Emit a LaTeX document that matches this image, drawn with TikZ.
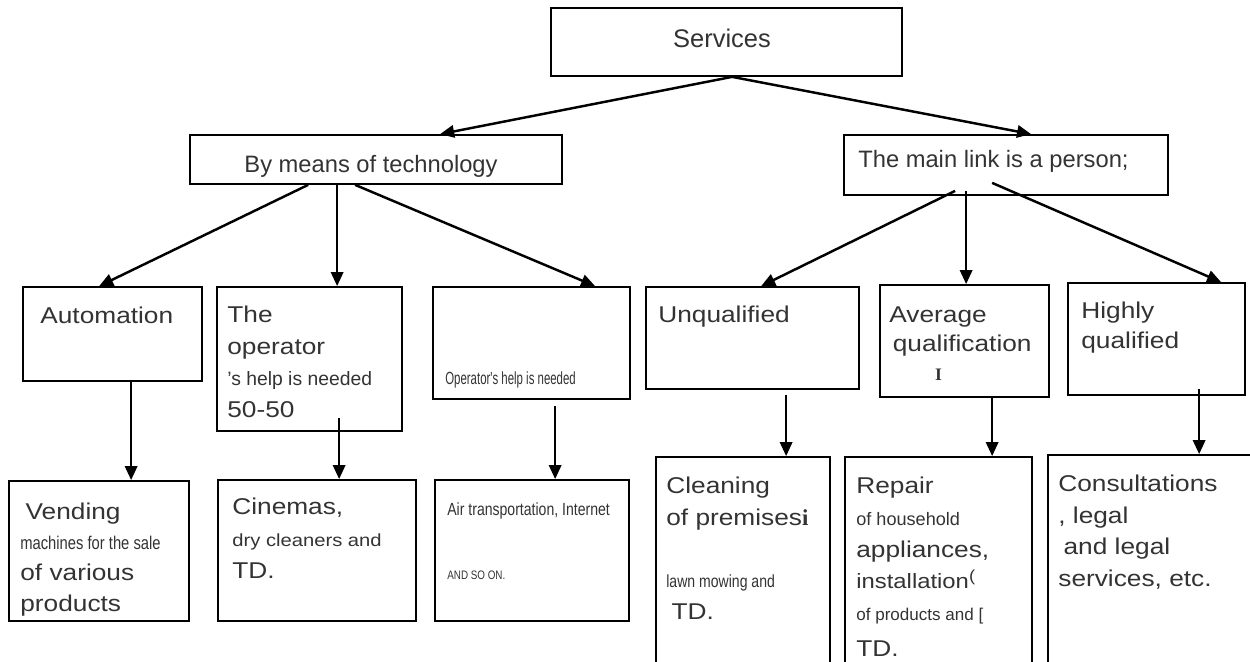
\documentclass[tikz,border=0pt]{standalone}
\usepackage{fontspec}
\setmainfont{Liberation Sans}
\newfontfamily\widefont[FakeStretch=1.15]{Liberation Sans}
\newfontfamily\narrowfont[FakeStretch=0.8]{Liberation Sans}
\newfontfamily\condfont[FakeStretch=0.65]{Liberation Sans}
\newfontfamily\seriffont{Liberation Serif}
\usetikzlibrary{arrows.meta, calc, fit}

\tikzset{
  box/.style={draw, line width=1pt, inner sep=0pt},
  arr/.style={-{Triangle[length=8pt, width=7pt]}, line width=1.4pt},
  txt/.style={inner sep=0pt, anchor=north west, align=left, text=black!80},
  wide/.style={txt, font=\widefont\fontsize{13}{#1}\selectfont},
  wide/.default=18
}

\begin{document}
\begin{tikzpicture}[x=0.02cm, y=-0.02cm]
			\useasboundingbox (0,0) rectangle (1250,662);
			\clip (0,0) rectangle (1250,662);
			% top levels
			\node[box, fit={(551,8) (902,76)}] (serv) {};
			\node[box, fit={(190,135) (562,184)}] (tech) {};
			\node[box, fit={(844,135) (1168,195)}] (pers) {};
			\node[txt, anchor=base, font=\fontsize{14.5}{17}\selectfont] (servT) at (722,48) {Services};
			\node[txt, anchor=base, font=\fontsize{13.5}{16}\selectfont] (techT) at (371,173) {By means of technology};
			\node[txt, anchor=base west, font=\fontsize{13.5}{16}\selectfont] (persT) at (858,168) {The main link is a person;};
			% middle row
			\node[box, fit={(23,287) (202,381)}] (auto) {};
			\node[box, fit={(217,287) (402,431)}] (oper) {};
			\node[box, fit={(433,287) (630,399)}] (opneed) {};
			\node[box, fit={(646,287) (859,389)}] (unq) {};
			\node[box, fit={(880,285) (1049,397)}] (avg) {};
			\node[box, fit={(1068,283) (1245,395)}] (high) {};
			\node[wide] (autoT) at (40,306.5) {Automation};
			\node[wide] (operT) at (227,305.5) {The\\operator\\{\normalfont\fontsize{11}{13}\selectfont 's help is needed}\\50-50};
			\node[txt, font=\condfont\fontsize{10}{12}\selectfont] (opneedT) at (445,371) {Operator's help is needed};
			\node[wide] (unqT) at (658,305.3) {Unqualified};
			\node[wide=16.6] (avgT) at (889,306.5) {Average\\\hspace{2pt}qualification\\\hspace{26pt}{\seriffont\bfseries\fontsize{10}{12}\selectfont I}};
			\node[wide=17] (highT) at (1081,301.5) {Highly\\qualified};
			% bottom row
			\node[box, fit={(9,481) (189,621)}] (vend) {};
			\node[box, fit={(218,480) (416,621)}] (cine) {};
			\node[box, fit={(435,480) (629,621)}] (air) {};
			\node[box, fit={(656,457) (830,690)}] (clean) {};
			\node[box, fit={(845,457) (1032,690)}] (repair) {};
			\node[box, fit={(1048,455) (1262,690)}] (consult) {};
			\node[wide=17.4] (vendT) at (20,502.5) {\hspace{3pt}Vending\\{\narrowfont\fontsize{10.5}{12}\selectfont machines for the sale}\\of various\\products};
			\node[wide=18.1] (cineT) at (232,497.5) {Cinemas,\\{\fontsize{10}{12}\selectfont dry cleaners and}\\TD.};
			\node[txt, font=\narrowfont\fontsize{10}{18}\selectfont] (airT) at (447,502.4) {Air transportation, Internet\\[18.3pt]{\fontsize{7}{8}\selectfont AND SO ON.}};
			\node[wide=18.3] (cleanT) at (666,476.5) {Cleaning\\of premises{\seriffont\bfseries i}\\[16.8pt]{\narrowfont\fontsize{10}{12}\selectfont lawn mowing and}\\\hspace{3pt}TD.};
			\node[wide=18.1] (repairT) at (856,476.5) {Repair\\{\normalfont\fontsize{10.3}{12}\selectfont of household}\\appliances,\\{\fontsize{11.8}{13}\selectfont installation}\textsuperscript{(}\\{\normalfont\fontsize{9.7}{12}\selectfont of products and [}\\[2.5pt]TD.};
			\node[wide=18.1] (consultT) at (1058,474.3) {Consultations\\, legal\\\hspace{3pt}and legal\\services, etc.};
			% connectors
			\draw[arr] ($(serv.south west)+(182,0)$) -- ($(tech.north west)+(251,0)$);
			\draw[arr] ($(serv.south west)+(182,0)$) -- ($(pers.north west)+(188,0)$);
			\draw[arr] ($(tech.south west)+(119,0)$) -- ($(auto.north west)+(77,0)$);
			\draw[arr] ($(tech.south west)+(148,0)$) -- ($(oper.north west)+(121,0)$);
			\draw[arr] ($(tech.south west)+(166,0)$) -- ($(opneed.north west)+(163,0)$);
			\draw[arr] ($(pers.south west)+(112,-5)$) -- ($(unq.north west)+(116,0)$);
			\draw[arr] ($(pers.south west)+(123,-5)$) -- ($(avg.north west)+(87,0)$);
			\draw[arr] ($(pers.south west)+(149,-13)$) -- ($(high.north west)+(154,0)$);
			\draw[arr] ($(auto.south west)+(109,0)$) -- ($(vend.north west)+(123,0)$);
			\draw[arr] ($(oper.south west)+(123,-14)$) -- ($(cine.north west)+(122,0)$);
			\draw[arr] ($(opneed.south west)+(123,6)$) -- ($(air.north west)+(121,0)$);
			\draw[arr] ($(unq.south west)+(141,5)$) -- ($(clean.north west)+(131,0)$);
			\draw[arr] ($(avg.south west)+(113,0)$) -- ($(repair.north west)+(148,0)$);
			\draw[arr] ($(high.south west)+(132,-7)$) -- ($(consult.north west)+(152,0)$);
		\end{tikzpicture}
\end{document}
